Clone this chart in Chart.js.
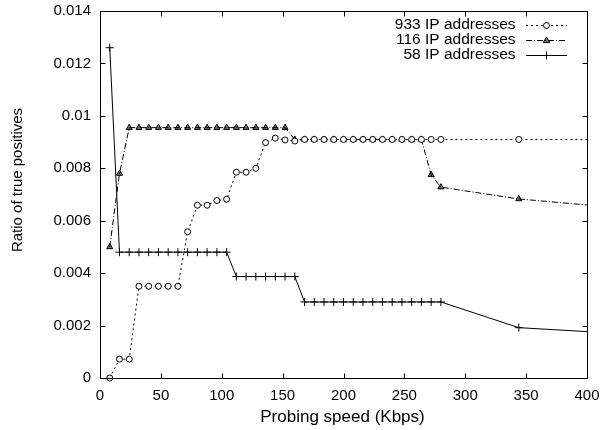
<!DOCTYPE html>
<html>
<head>
<meta charset="utf-8">
<script src="https://cdn.jsdelivr.net/npm/chart.js@4.4.0/dist/chart.umd.min.js"></script>
<style>
  html, body { margin: 0; padding: 0; background: #fff; }
  canvas { display: block; }
</style>
</head>
<body>
<canvas id="c" width="601" height="430"></canvas>
<script>
// ---- data ----
const xTicks = [0, 50, 100, 150, 200, 250, 300, 350, 400];
const yTicks = [0, 0.002, 0.004, 0.006, 0.008, 0.01, 0.012, 0.014];

const labels = ["933 IP addresses", "116 IP addresses", "58 IP addresses"];

const speed933 = [8, 16, 24, 32, 40, 48, 56, 64, 72, 80, 88, 96, 104, 112, 120, 128, 136, 144, 152, 160,
  168, 176, 184, 192, 200, 208, 216, 224, 232, 240, 248, 256, 264, 272, 280, 344, 400];
const ratio933 = [0, 0.00072, 0.00072, 0.0035, 0.0035, 0.0035, 0.0035, 0.0035, 0.00558, 0.00659, 0.00659, 0.00677, 0.00682, 0.00785, 0.00785, 0.0080, 0.00898, 0.00915, 0.00908, 0.00904,
  0.0091, 0.0091, 0.0091, 0.0091, 0.0091, 0.0091, 0.0091, 0.0091, 0.0091, 0.0091, 0.0091, 0.0091, 0.0091, 0.0091, 0.0091, 0.0091, 0.0091];

const speed116 = [8, 16, 24, 32, 40, 48, 56, 64, 72, 80, 88, 96, 104, 112, 120, 128, 136, 144, 152, 160,
  168, 176, 184, 192, 200, 208, 216, 224, 232, 240, 248, 256, 264, 272, 280, 344, 400];
const ratio116 = [0.0050, 0.0078, 0.00955, 0.00955, 0.00955, 0.00955, 0.00955, 0.00955, 0.00955, 0.00955, 0.00955, 0.00955, 0.00955, 0.00955, 0.00955, 0.00955, 0.00955, 0.00955, 0.00955, 0.0091,
  0.0091, 0.0091, 0.0091, 0.0091, 0.0091, 0.0091, 0.0091, 0.0091, 0.0091, 0.0091, 0.0091, 0.0091, 0.0091, 0.00775, 0.00728, 0.00683, 0.0066];

const speed58 = [8, 16, 24, 32, 40, 48, 56, 64, 72, 80, 88, 96, 104, 112, 120, 128, 136, 144, 152, 160,
  168, 176, 184, 192, 200, 208, 216, 224, 232, 240, 248, 256, 264, 272, 280, 344, 400];
const ratio58 = [0.0126, 0.0048, 0.0048, 0.0048, 0.0048, 0.0048, 0.0048, 0.0048, 0.0048, 0.0048, 0.0048, 0.0048, 0.0048, 0.00387, 0.00387, 0.00387, 0.00387, 0.00387, 0.00387, 0.00387,
  0.0029, 0.0029, 0.0029, 0.0029, 0.0029, 0.0029, 0.0029, 0.0029, 0.0029, 0.0029, 0.0029, 0.0029, 0.0029, 0.0029, 0.0029, 0.00192, 0.00177];

const xTitle = "Probing speed (Kbps)";
const yTitle = "Ratio of true positives";

// ---- styles ----
const FONT = "'Liberation Sans', Arial, Helvetica, sans-serif";
const styles = [
  { dash: [2, 3], point: 'circle', radius: 3, fill: '#ffffff' },
  { dash: [6, 2, 1, 2], point: 'triangle', radius: 3.5, fill: 'rgba(0,0,0,0.55)' },
  { dash: [], point: 'cross', radius: 4, fill: '#000' }
];

function pts(xs, ys) { return xs.map((x, i) => ({ x: x, y: ys[i] })); }
function mkDataset(label, xs, ys, st) {
  const last = xs.length - 1;
  return {
    label: label,
    data: pts(xs, ys),
    borderColor: '#000',
    borderWidth: 1,
    borderDash: st.dash,
    pointStyle: st.point,
    pointRadius: (ctx) => (ctx.dataIndex === last ? 0 : st.radius),
    pointBorderColor: '#000',
    pointBackgroundColor: st.fill,
    pointBorderWidth: 1,
    tension: 0,
    fill: false,
    clip: false
  };
}

function drawMarker(ctx, style, r, x, y, fill) {
  ctx.save();
  ctx.setLineDash([]);
  ctx.lineWidth = 1;
  ctx.strokeStyle = '#000';
  ctx.fillStyle = fill;
  ctx.beginPath();
  if (style === 'circle') {
    ctx.arc(x, y, r, 0, Math.PI * 2);
    ctx.fill(); ctx.stroke();
  } else if (style === 'triangle') {
    ctx.moveTo(x, y - r);
    ctx.lineTo(x + r * 0.95, y + r * 0.6);
    ctx.lineTo(x - r * 0.95, y + r * 0.6);
    ctx.closePath();
    ctx.fill(); ctx.stroke();
  } else {
    ctx.moveTo(x - r, y); ctx.lineTo(x + r, y);
    ctx.moveTo(x, y - r); ctx.lineTo(x, y + r);
    ctx.stroke();
  }
  ctx.restore();
}

const framePlugin = {
  id: 'frame',
  afterDatasetsDraw(chart) {
    const ctx = chart.ctx;
    const a = chart.chartArea;
    const xs = chart.scales.x, ys = chart.scales.y;
    const L = Math.round(a.left) + 0.5, R = Math.round(a.right) + 0.5;
    const T = Math.round(a.top) + 0.5, B = Math.round(a.bottom) + 0.5;
    ctx.save();
    ctx.strokeStyle = '#000';
    ctx.lineWidth = 1;
    ctx.setLineDash([]);
    ctx.beginPath();
    ctx.rect(L, T, R - L, B - T);
    // inward ticks, mirrored
    const tl = 5;
    xTicks.forEach(v => {
      const px = Math.round(xs.getPixelForValue(v)) + 0.5;
      ctx.moveTo(px, B); ctx.lineTo(px, B - tl);
      ctx.moveTo(px, T); ctx.lineTo(px, T + tl);
    });
    yTicks.forEach(v => {
      const py = Math.round(ys.getPixelForValue(v)) + 0.5;
      ctx.moveTo(L, py); ctx.lineTo(L + tl, py);
      ctx.moveTo(R, py); ctx.lineTo(R - tl, py);
    });
    ctx.stroke();

    // legend (text right-aligned, sample to the right)
    const textRight = 515.5;
    const sx0 = 526, sx1 = 567;
    const rows = [24.5, 40, 55];
    ctx.font = '15.5px ' + FONT;
    ctx.fillStyle = '#000';
    ctx.textAlign = 'right';
    ctx.textBaseline = 'middle';
    labels.forEach((lab, i) => {
      const y = rows[i];
      ctx.fillText(lab, textRight, y);
      ctx.save();
      ctx.setLineDash(styles[i].dash);
      ctx.beginPath();
      ctx.moveTo(sx0, Math.round(y) + 0.5);
      ctx.lineTo(sx1, Math.round(y) + 0.5);
      ctx.stroke();
      ctx.restore();
      drawMarker(ctx, styles[i].point, styles[i].radius, (sx0 + sx1) / 2, Math.round(y) + 0.5, styles[i].fill);
    });

    // axis titles
    ctx.textAlign = 'center';
    ctx.font = '17px ' + FONT;
    ctx.fillText(xTitle, (a.left + a.right) / 2 - 1, 417);
    ctx.save();
    ctx.translate(18, 180);
    ctx.rotate(-Math.PI / 2);
    ctx.font = '15px ' + FONT;
    ctx.fillText(yTitle, 0, 0);
    ctx.restore();
    ctx.restore();
  }
};

new Chart(document.getElementById('c'), {
  type: 'line',
  data: {
    datasets: [
      mkDataset(labels[0], speed933, ratio933, styles[0]),
      mkDataset(labels[1], speed116, ratio116, styles[1]),
      mkDataset(labels[2], speed58, ratio58, styles[2])
    ]
  },
  options: {
    responsive: false,
    animation: false,
    devicePixelRatio: 1,
    layout: { padding: { left: 0, right: 14, top: 11, bottom: 0 } },
    plugins: { legend: { display: false }, tooltip: { enabled: false } },
    scales: {
      x: {
        type: 'linear', min: 0, max: 400,
        afterBuildTicks: (s) => { s.ticks = xTicks.map(v => ({ value: v })); },
        afterFit: (s) => { s.height = 52; s.paddingLeft = 0; s.paddingRight = 0; },
        ticks: { color: '#000', font: { family: FONT, size: 15 }, padding: 9, maxRotation: 0, autoSkip: false },
        grid: { display: false, drawTicks: false },
        border: { display: false }
      },
      y: {
        type: 'linear', min: 0, max: 0.014,
        afterBuildTicks: (s) => { s.ticks = yTicks.map(v => ({ value: v })); },
        afterFit: (s) => { s.width = 100; s.paddingTop = 0; s.paddingBottom = 0; },
        ticks: { color: '#000', font: { family: FONT, size: 15 }, padding: 9, autoSkip: false,
                 callback: (v) => String(+v.toFixed(3)) },
        grid: { display: false, drawTicks: false },
        border: { display: false }
      }
    }
  },
  plugins: [framePlugin]
});
</script>
</body>
</html>
